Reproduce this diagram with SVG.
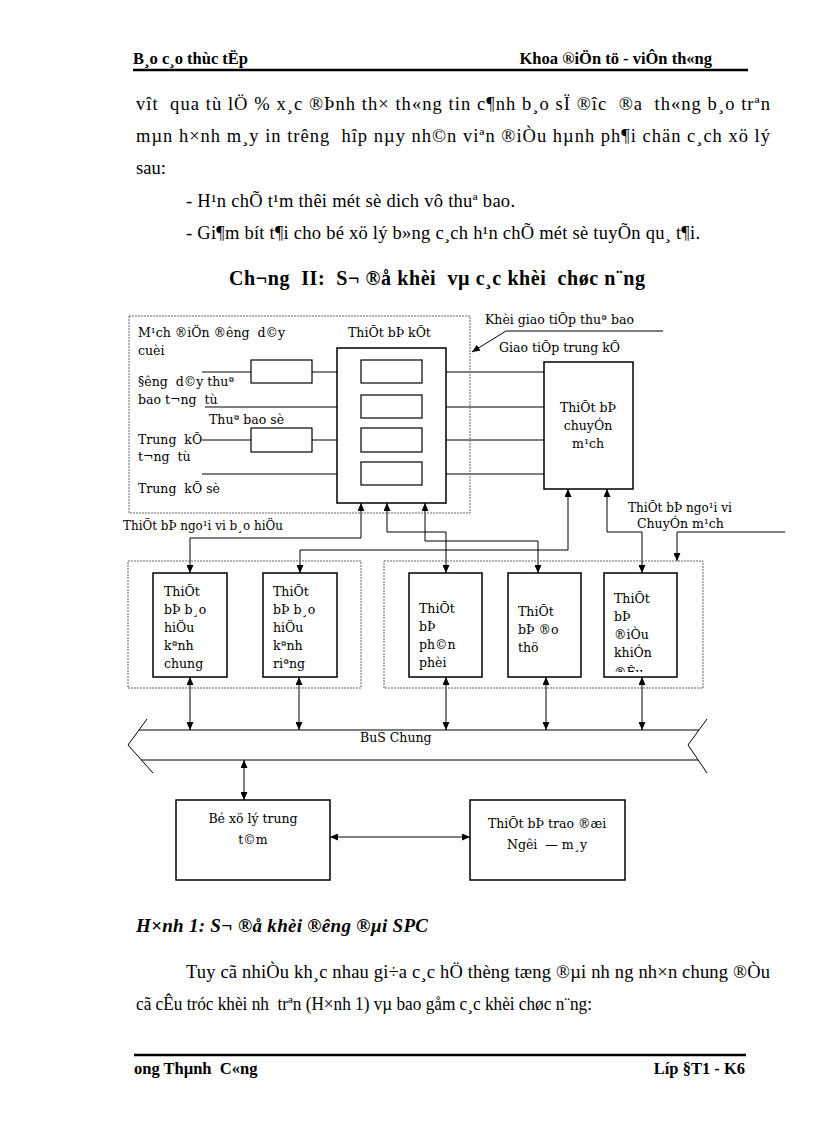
<svg xmlns="http://www.w3.org/2000/svg" width="816" height="1123" viewBox="0 0 816 1123" xml:space="preserve">
<style>
text{white-space:pre}
.b{font-family:"Liberation Serif",serif;font-size:18.5px;fill:#000}
.hb{font-family:"Liberation Serif",serif;font-size:16.5px;font-weight:bold;fill:#000}
.tt{font-family:"Liberation Serif",serif;font-size:20px;font-weight:bold;fill:#000}
.cap{font-family:"Liberation Serif",serif;font-size:19px;font-weight:bold;font-style:italic;fill:#000}
.d{font-family:"DejaVu Serif",serif;font-size:12.5px;fill:#000}
.ln{stroke:#000;stroke-width:1;fill:none}
.box{stroke:#000;stroke-width:1.5;fill:#fff}
.sbox{stroke:#000;stroke-width:1.2;fill:#fff}
.dot{stroke:#666;stroke-width:1;stroke-dasharray:2 1;fill:none}
.arr{stroke:#000;stroke-width:1;fill:none;marker-end:url(#ah)}
.arr2{stroke:#000;stroke-width:1;fill:none;marker-end:url(#ah);marker-start:url(#ah)}
</style>
<defs>
<marker id="ah" markerWidth="8" markerHeight="7" refX="8" refY="3.5" orient="auto-start-reverse" markerUnits="userSpaceOnUse">
<path d="M0,0 L8,3.5 L0,7 z" fill="#000"/>
</marker>
<clipPath id="clipDK"><rect x="604" y="573" width="73" height="99"/></clipPath>
</defs>
<rect width="816" height="1123" fill="#fff"/>

<g id="page-header">
<text class="hb" x="133" y="64">B¸o c¸o thùc tËp</text>
<text class="hb" x="712" y="64" text-anchor="end">Khoa ®iÖn tö - viÔn th«ng</text>
<line x1="133" y1="70" x2="748" y2="70" stroke="#000" stroke-width="2.5"/>
</g>

<g id="intro-text">
<text class="b" x="136" y="110" textLength="634" lengthAdjust="spacing">vît  qua tù lÖ % x¸c ®Þnh th× th«ng tin c¶nh b¸o sÏ ®îc  ®a  th«ng b¸o trªn</text>
<text class="b" x="136" y="142" textLength="634" lengthAdjust="spacing">mµn h×nh m¸y in trêng  hîp nµy nh©n viªn ®iÒu hµnh ph¶i chän c¸ch xö lý</text>
<text class="b" x="136" y="174">sau:</text>
<text class="b" x="186" y="207" textLength="329" lengthAdjust="spacing">- H¹n chÕ t¹m thêi mét sè dich vô thuª bao.</text>
<text class="b" x="186" y="239" textLength="514" lengthAdjust="spacing">- Gi¶m bít t¶i cho bé xö lý b»ng c¸ch h¹n chÕ mét sè tuyÕn qu¸ t¶i.</text>
<text class="tt" x="229" y="285" textLength="416" lengthAdjust="spacing">Ch¬ng  II:  S¬ ®å khèi  vµ c¸c khèi  chøc n¨ng</text>
</g>

<g id="connectors">
<line class="ln" x1="202" y1="372" x2="251" y2="372"/>
<line class="ln" x1="312" y1="372" x2="361" y2="372"/>
<line class="ln" x1="422" y1="372" x2="544" y2="372"/>
<line class="ln" x1="205" y1="407" x2="361" y2="407"/>
<line class="ln" x1="422" y1="407" x2="544" y2="407"/>
<line class="ln" x1="202" y1="440" x2="251" y2="440"/>
<line class="ln" x1="312" y1="440" x2="361" y2="440"/>
<line class="ln" x1="422" y1="440" x2="544" y2="440"/>
<line class="ln" x1="202" y1="474" x2="361" y2="474"/>
<line class="ln" x1="422" y1="474" x2="544" y2="474"/>
<polyline class="arr" points="663,331 506,331 472,352"/>
<polyline class="arr2" points="361,503 361,538 190,538 190,573"/>
<polyline class="arr2" points="387,503 387,532 446,532 446,573"/>
<polyline class="arr2" points="425,503 425,541 538,541 538,573"/>
<polyline class="arr2" points="568,489 568,550 300,550 300,573"/>
<polyline class="arr2" points="607,489 607,532 642,532 642,573"/>
<polyline class="arr" points="785,532 677,532 677,561"/>
<line class="arr2" x1="190" y1="677" x2="190" y2="730"/>
<line class="arr2" x1="299" y1="677" x2="299" y2="730"/>
<line class="arr2" x1="446" y1="677" x2="446" y2="730"/>
<line class="arr2" x1="546" y1="677" x2="546" y2="730"/>
<line class="arr2" x1="642" y1="677" x2="642" y2="730"/>
<line class="arr2" x1="244" y1="760" x2="244" y2="800"/>
<line class="ln" x1="176" y1="837" x2="330" y2="837"/>
<line class="arr2" x1="330" y1="837" x2="470" y2="837"/>
</g>

<g id="interface-block">
<rect class="dot" x="129" y="316" width="341" height="197"/>
<text class="d" x="138" y="337">M¹ch ®iÖn ®êng  d©y</text>
<text class="d" x="138" y="355">cuèi</text>
<text class="d" x="138" y="386">§êng  d©y thuª</text>
<text class="d" x="138" y="404">bao t¬ng  tù</text>
<text class="d" x="209" y="424">Thuª bao sè</text>
<text class="d" x="138" y="444">Trung  kÕ</text>
<text class="d" x="138" y="461">t¬ng  tù</text>
<text class="d" x="138" y="493">Trung  kÕ sè</text>
<text class="d" x="348" y="337">ThiÕt bÞ kÕt</text>
</g>
<g id="line-circuit-1"><rect class="sbox" x="251" y="360" width="61" height="23"/></g>
<g id="line-circuit-2"><rect class="sbox" x="251" y="428" width="61" height="24"/></g>
<g id="connect-unit">
<rect class="box" x="337" y="348" width="109" height="155" fill="none"/>
<rect class="sbox" x="361" y="360" width="61" height="23"/>
<rect class="sbox" x="361" y="395" width="61" height="23"/>
<rect class="sbox" x="361" y="428" width="61" height="24"/>
<rect class="sbox" x="361" y="462" width="61" height="23"/>
</g>
<g id="labels-right">
<text class="d" x="485" y="324">Khèi giao tiÕp thuª bao</text>
<text class="d" x="499" y="352">Giao tiÕp trung kÕ</text>
<text class="d" x="123" y="530" textLength="160" lengthAdjust="spacingAndGlyphs">ThiÕt bÞ ngo¹i vi b¸o hiÖu</text>
<text class="d" x="628" y="512" textLength="104" lengthAdjust="spacingAndGlyphs">ThiÕt bÞ ngo¹i vi</text>
<text class="d" x="637" y="528">ChuyÓn m¹ch</text>
</g>
<g id="switching">
<rect class="box" x="544" y="362" width="89" height="127"/>
<text class="d" x="588" y="412" text-anchor="middle">ThiÕt bÞ</text>
<text class="d" x="588" y="430" text-anchor="middle">chuyÓn</text>
<text class="d" x="588" y="448" text-anchor="middle">m¹ch</text>
</g>

<g id="signalling-group">
<rect class="dot" x="128" y="561" width="233" height="127"/>
</g>
<g id="sig-common">
<rect class="box" x="153" y="573" width="74" height="104"/>
<text class="d" x="164" y="596">ThiÕt</text>
<text class="d" x="164" y="614">bÞ b¸o</text>
<text class="d" x="164" y="632">hiÖu</text>
<text class="d" x="164" y="650">kªnh</text>
<text class="d" x="164" y="668">chung</text>
</g>
<g id="sig-channel">
<rect class="box" x="263" y="573" width="74" height="104"/>
<text class="d" x="273" y="596">ThiÕt</text>
<text class="d" x="273" y="614">bÞ b¸o</text>
<text class="d" x="273" y="632">hiÖu</text>
<text class="d" x="273" y="650">kªnh</text>
<text class="d" x="273" y="668">riªng</text>
</g>
<g id="switch-periph-group">
<rect class="dot" x="384" y="561" width="319" height="127"/>
</g>
<g id="distributor">
<rect class="box" x="409" y="573" width="73" height="104"/>
<text class="d" x="419" y="613">ThiÕt</text>
<text class="d" x="419" y="631">bÞ</text>
<text class="d" x="419" y="649">ph©n</text>
<text class="d" x="419" y="667">phèi</text>
</g>
<g id="test-unit">
<rect class="box" x="508" y="573" width="73" height="104"/>
<text class="d" x="518" y="616">ThiÕt</text>
<text class="d" x="518" y="634">bÞ ®o</text>
<text class="d" x="518" y="652">thö</text>
</g>
<g id="control-unit">
<rect class="box" x="604" y="573" width="73" height="104"/>
<text class="d" x="614" y="603">ThiÕt</text>
<text class="d" x="614" y="621">bÞ</text>
<text class="d" x="614" y="639">®iÒu</text>
<text class="d" x="614" y="657">khiÓn</text>
<text class="d" x="614" y="677" clip-path="url(#clipDK)">®Êu</text>
</g>

<g id="bus">
<path class="ln" d="M147,719 L128,745 L153,773 M139,730 H699 M141,760 H698 M707,719 L688,745 L707,773"/>
<text class="d" x="360" y="742" font-size="12">BuS Chung</text>
</g>

<g id="cpu">
<rect class="box" x="176" y="800" width="154" height="80" fill="none"/>
<text class="d" x="253" y="823" text-anchor="middle">Bé xö lý trung</text>
<text class="d" x="253" y="844" text-anchor="middle">t©m</text>
</g>
<g id="hmi">
<rect class="box" x="470" y="800" width="155" height="80"/>
<text class="d" x="547" y="828" text-anchor="middle">ThiÕt bÞ trao ®æi</text>
<text class="d" x="547" y="849" text-anchor="middle">Ngêi  — m¸y</text>
</g>

<g id="caption-text">
<text class="cap" x="136" y="932" textLength="292" lengthAdjust="spacing">H×nh 1: S¬ ®å khèi ®êng ®µi SPC</text>
<text class="b" x="186" y="978" textLength="584" lengthAdjust="spacing">Tuy cã nhiÒu kh¸c nhau gi÷a c¸c hÖ thèng tæng ®µi nh ng nh×n chung ®Òu</text>
<text class="b" x="136" y="1010" textLength="456" lengthAdjust="spacingAndGlyphs">cã cÊu tróc khèi nh  trªn (H×nh 1) vµ bao gåm c¸c khèi chøc n¨ng:</text>
</g>

<g id="page-footer">
<line x1="134" y1="1055" x2="746" y2="1055" stroke="#000" stroke-width="2.5"/>
<text class="hb" x="134" y="1074">­ong Thµnh  C«ng</text>
<text class="hb" x="745" y="1074" text-anchor="end">Líp §T1 - K6</text>
</g>
</svg>
